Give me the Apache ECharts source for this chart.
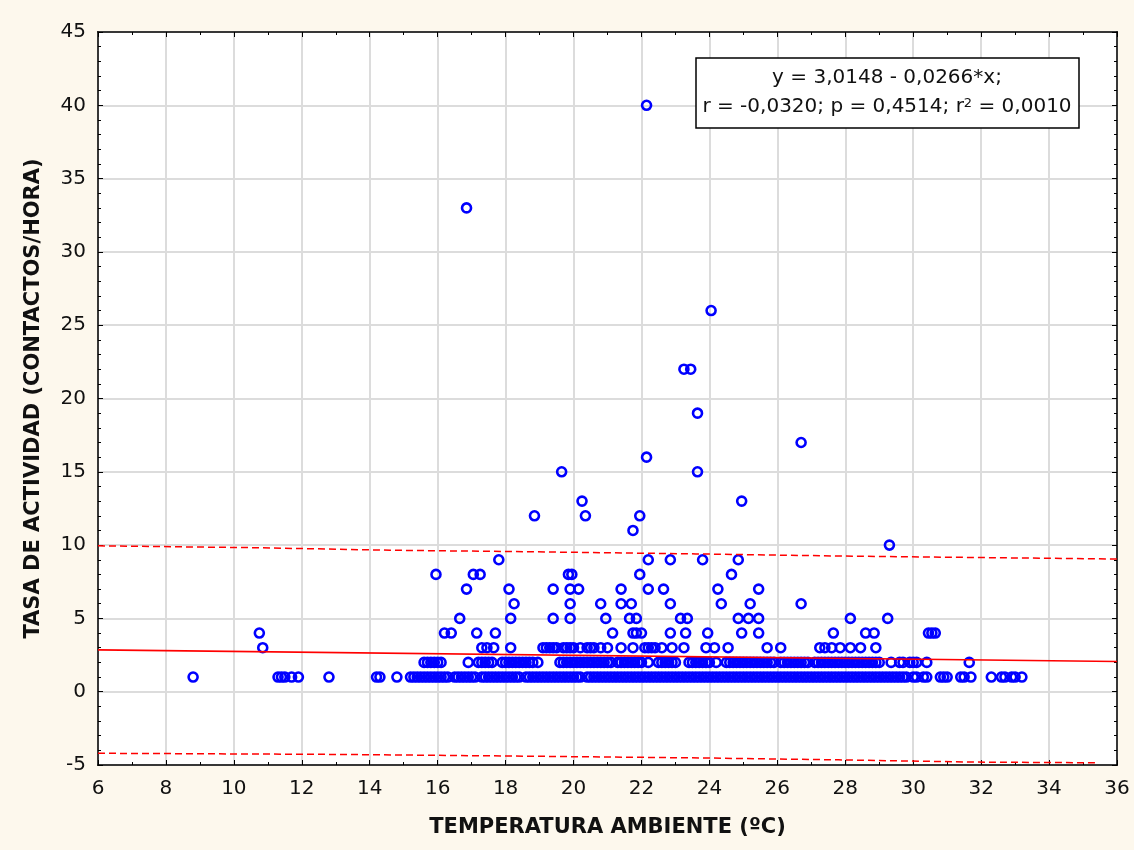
<!DOCTYPE html>
<html><head><meta charset="utf-8">
<script src="https://cdn.jsdelivr.net/npm/echarts@6/dist/echarts.min.js"></script>
<style>html,body{margin:0;padding:0;background:#fdf8ed}#c{width:1134px;height:850px}</style>
</head><body><div id="c"></div>
<script>
// x values (temperature) of observations, grouped by activity rate (y)
const row1X = [8.8,11.3,11.4,11.5,11.7,11.9,12.8,14.2,14.3,14.8,15.2,15.3,15.4,15.5,15.6,15.7,15.8,15.9,16.0,16.1,16.2,16.3,16.5,16.6,16.7,16.8,16.9,17.0,17.1,17.3,17.4,17.5,17.6,17.7,17.8,17.9,18.0,18.1,18.2,18.3,18.4,18.6,18.7,18.8,18.9,19.0,19.1,19.2,19.3,19.4,19.5,19.6,19.7,19.8,19.9,20.0,20.1,20.2,20.4,20.5,20.6,20.7,20.8,20.9,21.0,21.1,21.2,21.3,21.4,21.5,21.6,21.7,21.8,21.9,22.0,22.1,22.2,22.3,22.4,22.5,22.6,22.7,22.8,22.9,23.0,23.1,23.2,23.3,23.4,23.5,23.6,23.7,23.8,23.9,24.0,24.1,24.2,24.3,24.4,24.5,24.6,24.7,24.8,24.9,25.0,25.1,25.2,25.3,25.4,25.5,25.6,25.7,25.8,25.9,26.0,26.1,26.2,26.3,26.4,26.5,26.6,26.7,26.8,26.9,27.0,27.1,27.2,27.3,27.4,27.5,27.6,27.7,27.8,27.9,28.0,28.1,28.2,28.3,28.4,28.5,28.6,28.7,28.8,28.9,29.0,29.1,29.2,29.3,29.4,29.5,29.6,29.7,29.8,30.0,30.1,30.3,30.4,30.8,30.9,31.0,31.4,31.5,31.7,32.3,32.6,32.7,32.9,33.0,33.2];
const row2X = [15.6,15.7,15.8,15.9,16.0,16.1,16.9,17.2,17.3,17.4,17.5,17.6,17.9,18.0,18.1,18.2,18.3,18.4,18.5,18.6,18.7,18.8,18.95,19.6,19.7,19.8,19.9,20.0,20.1,20.2,20.3,20.4,20.5,20.6,20.7,20.8,20.9,21.0,21.1,21.3,21.4,21.5,21.6,21.7,21.8,21.9,22.0,22.2,22.5,22.6,22.7,22.8,22.9,23.0,23.4,23.5,23.6,23.7,23.8,23.9,24.0,24.2,24.5,24.6,24.7,24.8,24.9,25.0,25.1,25.2,25.3,25.4,25.5,25.6,25.7,25.8,25.9,26.1,26.2,26.3,26.4,26.5,26.6,26.7,26.8,26.9,27.1,27.2,27.3,27.4,27.5,27.6,27.7,27.8,27.9,28.0,28.1,28.2,28.3,28.4,28.5,28.6,28.7,28.8,28.9,29.0,29.35,29.6,29.7,29.9,30.0,30.1,30.4,31.65];
const row3X = [10.85,17.3,17.45,17.65,18.15,19.1,19.2,19.3,19.4,19.5,19.7,19.8,19.9,20.0,20.2,20.4,20.5,20.6,20.8,21.0,21.4,21.75,22.1,22.2,22.3,22.4,22.6,22.9,23.25,23.9,24.15,24.55,25.7,26.1,27.25,27.4,27.6,27.85,28.15,28.45,28.9];
const row4X = [10.75,16.2,16.4,17.15,17.7,21.15,21.75,21.85,22.0,22.85,23.3,23.95,24.95,25.45,27.65,28.6,28.85,30.45,30.55,30.65];
const row5X = [16.65,18.15,19.4,19.9,20.95,21.65,21.85,23.15,23.35,24.85,25.15,25.45,28.15,29.25];
const row6X = [18.25,19.9,20.8,21.4,21.7,22.85,24.35,25.2,26.7];
const row7X = [16.85,18.1,19.4,19.9,20.15,21.4,22.2,22.65,24.25,25.45];
const row8X = [15.95,17.05,17.25,19.85,19.95,21.95,24.65];
const row9X = [17.8,22.2,22.85,23.8,24.85];
// isolated high values: [temperature, rate]
const highPoints = [[29.3,10],[21.75,11],[18.85,12],[20.35,12],[21.95,12],[20.25,13],[24.95,13],[19.65,15],[23.65,15],[22.15,16],[26.7,17],[23.65,19],[23.25,22],[23.45,22],[24.05,26],[16.85,33],[22.15,40]];
// regression line and 95% prediction band
const regX = [6, 36];
const regY = [2.85, 2.06];
const upperX = [6, 10.7, 14.6, 18.6, 23.6, 28.0, 36];
const upperY = [9.95, 9.82, 9.65, 9.55, 9.4, 9.25, 9.05];
const lowerX = [6, 13.2, 18.7, 23.8, 27.8, 31.8, 35.4];
const lowerY = [-4.2, -4.28, -4.4, -4.52, -4.65, -4.8, -4.85];
const xTitle = 'TEMPERATURA AMBIENTE (ºC)';
const yTitle = 'TASA DE ACTIVIDAD (CONTACTOS/HORA)';
const eqLine1 = 'y = 3,0148 - 0,0266*x;';
const eqLine2a = 'r = -0,0320; p = 0,4514; r';
const eqLine2b = ' = 0,0010';

const rows = [row1X,row2X,row3X,row4X,row5X,row6X,row7X,row8X,row9X];
const points = [];
rows.forEach((xs,i)=>xs.forEach(x=>points.push([x,i+1])));
highPoints.forEach(p=>points.push(p));
const zip = (a,b)=>a.map((v,i)=>[v,b[i]]);

const FONT = 'DejaVu Sans';
const tickCommon = {inside:true,length:5,lineStyle:{color:'#000',width:1}};
const minorCommon = {show:true,length:3,lineStyle:{color:'#000',width:1}};
const lineCommon = {show:true,onZero:false,lineStyle:{color:'#000',width:1.5}};

const chart = echarts.init(document.getElementById('c'));
chart.setOption({
  animation:false,
  backgroundColor:'#fdf8ed',
  grid:{left:98,right:17,top:32,bottom:85,show:true,backgroundColor:'#fff',borderColor:'#000',borderWidth:1.5},
  xAxis:[
    {type:'value',min:6,max:36,interval:2,position:'bottom',
     axisLine:lineCommon,axisTick:tickCommon,minorTick:Object.assign({splitNumber:2},minorCommon),
     splitLine:{show:true,lineStyle:{color:'#dcdcdc',width:2}},
     axisLabel:{color:'#111',fontFamily:FONT,fontSize:20,margin:14},
     name:xTitle,nameLocation:'middle',nameGap:52,
     nameTextStyle:{color:'#111',fontFamily:FONT,fontSize:21,fontWeight:'bold'}},
    {type:'value',min:6,max:36,interval:2,position:'top',
     axisLine:lineCommon,axisTick:tickCommon,minorTick:Object.assign({splitNumber:2},minorCommon),
     splitLine:{show:false},axisLabel:{show:false}}
  ],
  yAxis:[
    {type:'value',min:-5,max:45,interval:5,position:'left',
     axisLine:lineCommon,axisTick:tickCommon,minorTick:Object.assign({splitNumber:5},minorCommon),
     splitLine:{show:true,lineStyle:{color:'#dcdcdc',width:2}},
     axisLabel:{color:'#111',fontFamily:FONT,fontSize:20,margin:12},
     name:yTitle,nameLocation:'middle',nameGap:54,nameRotate:90,
     nameTextStyle:{color:'#111',fontFamily:FONT,fontSize:21,fontWeight:'bold'}},
    {type:'value',min:-5,max:45,interval:5,position:'right',
     axisLine:lineCommon,axisTick:tickCommon,minorTick:Object.assign({splitNumber:5},minorCommon),
     splitLine:{show:false},axisLabel:{show:false}}
  ],
  series:[
    {type:'scatter',data:points,symbol:'circle',symbolSize:9,
     itemStyle:{color:'rgba(0,0,0,0)',borderColor:'#0000ff',borderWidth:2.6,opacity:1},z:3},
    {type:'line',data:zip(regX,regY),showSymbol:false,lineStyle:{color:'#ff0000',width:1.6},z:4},
    {type:'line',data:zip(upperX,upperY),showSymbol:false,lineStyle:{color:'#ff0000',width:1.5,type:[7,4]},z:4},
    {type:'line',data:zip(lowerX,lowerY),showSymbol:false,lineStyle:{color:'#ff0000',width:1.5,type:[7,4]},z:4}
  ],
  graphic:[
    {type:'rect',shape:{x:696,y:58,width:383,height:70},style:{fill:'#fff',stroke:'#000',lineWidth:1.5},z:100},
    {type:'text',x:887,y:78,z:101,style:{text:eqLine1,fill:'#111',fontFamily:FONT,fontSize:20,align:'center',verticalAlign:'middle'}},
    {type:'text',x:887,y:107,z:101,style:{
      text:'{n|'+eqLine2a+'}{s|2}{n|'+eqLine2b+'}',
      align:'center',verticalAlign:'middle',
      rich:{n:{fill:'#111',fontFamily:FONT,fontSize:20},s:{fill:'#111',fontFamily:FONT,fontSize:13,verticalAlign:'top'}}}}
  ]
});
</script></body></html>
